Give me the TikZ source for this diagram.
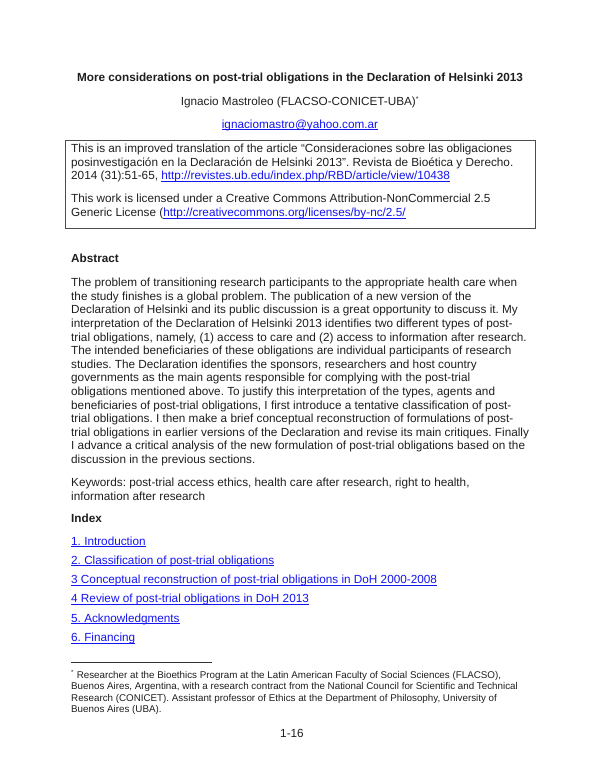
\documentclass[tikz,border=0pt]{standalone}
\usepackage{fontspec}
\setmainfont{Liberation Sans}
\usetikzlibrary{positioning}
\definecolor{linkblue}{RGB}{20,20,240}
\definecolor{bodygray}{RGB}{30,30,30}
\tikzset{
  bodytext/.style = {inner sep=0pt, anchor=north west, align=left, text=bodygray, font=\frenchspacing\fontsize{11.75}{13.6}\selectfont},
  headtext/.style = {bodytext, font=\fontsize{11.75}{13.6}\selectfont\bfseries},
  linktext/.style = {bodytext, text=linkblue},
  notetext/.style = {bodytext, font=\frenchspacing\fontsize{9.8}{11.3}\selectfont},
}
\newcommand{\weblink}[1]{\textcolor{linkblue}{\underline{\smash{#1}}}}
\begin{document}
\begin{tikzpicture}[x=1pt,y=-1pt]
\useasboundingbox (0,0) rectangle (600,776);

% top of the page
\node [headtext, anchor=center] (title) at (300,78.5) {More considerations on post-trial obligations in the Declaration of Helsinki 2013};
\node [bodytext, anchor=center] (author) at (300,102) {Ignacio Mastroleo (FLACSO-CONICET-UBA)\textsuperscript{\fontsize{7}{7}\selectfont *}};
\node [linktext, anchor=center] (mail) at (300,129) {\weblink{ignaciomastro@yahoo.com.ar}};

% box with the two notes
\node [draw=black!70, line width=0.7pt, minimum width=470pt, minimum height=88pt, anchor=north west] (box) at (65,140) {};
\node [bodytext] (note1) at (71,144) {This is an improved translation of the article “Consideraciones sobre las obligaciones\\
posinvestigación en la Declaración de Helsinki 2013”. Revista de Bioética y Derecho.\\
2014 (31):51-65, \weblink{http://revistes.ub.edu/index.php/RBD/article/view/10438}};
\node [bodytext] (note2) at (71,194) {This work is licensed under a Creative Commons Attribution-NonCommercial 2.5\\
Generic License (\weblink{http://creativecommons.org/licenses/by-nc/2.5/}};

% abstract
\node [headtext] (abstract) at (71,254) {Abstract};
\node [bodytext] (abstext) at (71,278) {The problem of transitioning research participants to the appropriate health care when\\
the study finishes is a global problem. The publication of a new version of the\\
Declaration of Helsinki and its public discussion is a great opportunity to discuss it. My\\
interpretation of the Declaration of Helsinki 2013 identifies two different types of post-\\
trial obligations, namely, (1) access to care and (2) access to information after research.\\
The intended beneficiaries of these obligations are individual participants of research\\
studies. The Declaration identifies the sponsors, researchers and host country\\
governments as the main agents responsible for complying with the post-trial\\
obligations mentioned above. To justify this interpretation of the types, agents and\\
beneficiaries of post-trial obligations, I first introduce a tentative classification of post-\\
trial obligations. I then make a brief conceptual reconstruction of formulations of post-\\
trial obligations in earlier versions of the Declaration and revise its main critiques. Finally\\
I advance a critical analysis of the new formulation of post-trial obligations based on the\\
discussion in the previous sections.};
\node [bodytext] (keywords) at (71,478) {Keywords: post-trial access ethics, health care after research, right to health,\\
information after research};

% index
\node [headtext] (index) at (71,514) {Index};
\node [linktext] (sec1) at (71,545) {\weblink{1. Introduction}};
\node [linktext] (sec2) at (71,564) {\weblink{2. Classification of post-trial obligations}};
\node [linktext] (sec3) at (71,583.5) {\weblink{3 Conceptual reconstruction of post-trial obligations in DoH 2000-2008}};
\node [linktext] (sec4) at (71,602.5) {\weblink{4 Review of post-trial obligations in DoH 2013}};
\node [linktext] (sec5) at (71,622) {\weblink{5. Acknowledgments}};
\node [linktext] (sec6) at (71,641.5) {\weblink{6. Financing}};

% footnote and page number
\coordinate (ruleleft) at (71,662.5);
\coordinate (ruleright) at (212,662.5);
\draw [black!80, line width=0.7pt] (ruleleft) -- (ruleright);
\node [notetext] (foot) at (71,670.5) {\textsuperscript{\fontsize{6}{6}\selectfont *} Researcher at the Bioethics Program at the Latin American Faculty of Social Sciences (FLACSO),\\
Buenos Aires, Argentina, with a research contract from the National Council for Scientific and Technical\\
Research (CONICET). Assistant professor of Ethics at the Department of Philosophy, University of\\
Buenos Aires (UBA).};
\node [bodytext, anchor=center] (page) at (292,733) {1-16};
\end{tikzpicture}
\end{document}
